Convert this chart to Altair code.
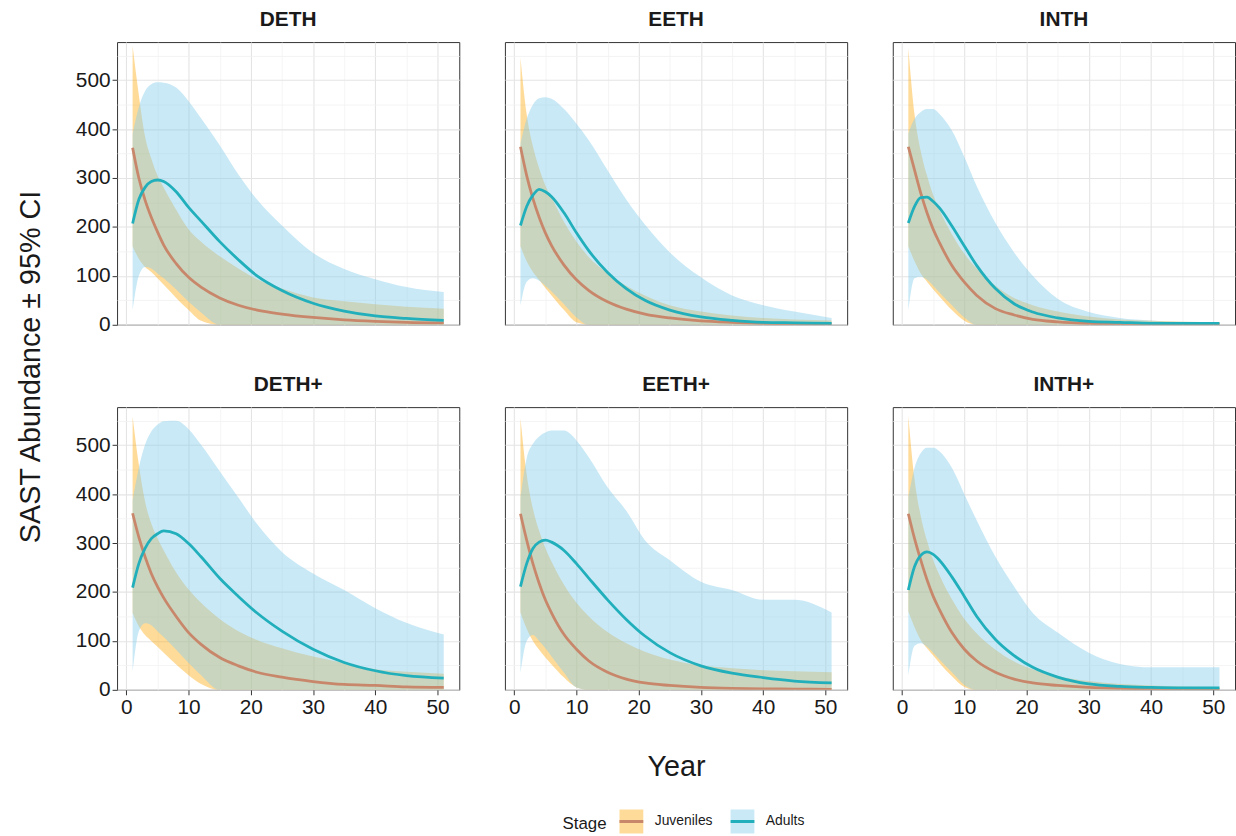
import altair as alt
import pandas as pd

YEARS = [1, 2, 3, 4, 5, 6, 8, 10, 12, 15, 18, 21, 25, 30, 35, 40, 45, 51]
SCENARIOS = ["DETH", "EETH", "INTH", "DETH+", "EETH+", "INTH+"]
STAGES = ["Juveniles", "Adults"]

# ---- DETH ----
DETH_J_MEAN = [362, 300, 255, 220, 190, 163, 125, 97, 77, 55, 40, 30, 22, 15, 10, 7, 5, 4]
DETH_J_LO = [160, 135, 118, 108, 95, 82, 55, 30, 8, 0, 0, 0, 0, 0, 0, 0, 0, 0]
DETH_J_HI = [570, 470, 385, 340, 305, 280, 235, 195, 170, 140, 115, 93, 74, 56, 48, 42, 37, 33]
DETH_A_MEAN = [207, 256, 281, 293, 296, 293, 272, 240, 212, 170, 133, 100, 70, 44, 28, 18, 13, 9]
DETH_A_LO = [30, 100, 118, 115, 105, 95, 72, 47, 25, 0, 0, 0, 0, 0, 0, 0, 0, 0]
DETH_A_HI = [390, 445, 478, 492, 496, 495, 485, 457, 422, 367, 307, 256, 203, 147, 114, 93, 77, 67]
# ---- EETH ----
EETH_J_MEAN = [364, 305, 258, 220, 188, 162, 122, 92, 70, 47, 32, 22, 14, 8, 5, 3, 2, 1.5]
EETH_J_LO = [160, 130, 108, 92, 75, 60, 30, 5, 0, 0, 0, 0, 0, 0, 0, 0, 0, 0]
EETH_J_HI = [546, 430, 365, 320, 285, 260, 210, 170, 138, 105, 80, 60, 40, 27, 19, 14, 11, 9]
EETH_A_MEAN = [203, 242, 265, 277, 272, 262, 229, 188, 151, 107, 74, 50, 30, 16, 9, 5, 4, 3]
EETH_A_LO = [40, 88, 95, 90, 80, 68, 42, 15, 0, 0, 0, 0, 0, 0, 0, 0, 0, 0]
EETH_A_HI = [370, 421, 450, 463, 465, 462, 441, 411, 377, 316, 256, 205, 148, 97, 60, 40, 27, 14]
# ---- INTH ----
INTH_J_MEAN = [364, 316, 269, 229, 195, 168, 121, 87, 60, 33, 20, 11, 6, 3, 2, 1.5, 1, 1]
INTH_J_LO = [160, 130, 105, 88, 72, 58, 30, 8, 0, 0, 0, 0, 0, 0, 0, 0, 0, 0]
INTH_J_HI = [566, 430, 355, 305, 265, 235, 185, 145, 115, 80, 55, 40, 27, 17, 11, 8, 6, 5]
INTH_A_MEAN = [208, 242, 260, 261, 252, 239, 202, 161, 121, 74, 43, 26, 14, 7, 5, 3, 3, 3]
INTH_A_LO = [30, 95, 98, 92, 80, 66, 40, 15, 0, 0, 0, 0, 0, 0, 0, 0, 0, 0]
INTH_A_HI = [391, 421, 435, 441, 441, 431, 397, 343, 283, 208, 148, 100, 53, 26, 14, 9, 6, 5]
# ---- DETH+ ----
DETHP_J_MEAN = [361, 312, 272, 238, 211, 188, 150, 117, 93, 66, 49, 36, 26, 17, 11, 9, 6, 5]
DETHP_J_LO = [157, 130, 112, 100, 88, 76, 52, 30, 12, 0, 0, 0, 0, 0, 0, 0, 0, 0]
DETHP_J_HI = [559, 460, 385, 340, 310, 285, 240, 205, 178, 145, 120, 102, 85, 68, 55, 42, 37, 33]
DETHP_A_MEAN = [209, 258, 289, 309, 319, 325, 319, 299, 272, 228, 191, 157, 120, 83, 56, 39, 29, 24]
DETHP_A_LO = [38, 120, 136, 132, 120, 108, 82, 55, 30, 0, 0, 0, 0, 0, 0, 0, 0, 0]
DETHP_A_HI = [387, 454, 501, 528, 542, 549, 550, 533, 501, 447, 393, 339, 282, 238, 204, 167, 137, 113]
# ---- EETH+ ----
EETHP_J_MEAN = [360, 306, 258, 218, 184, 157, 113, 83, 59, 36, 22, 14, 9, 5, 3, 2, 1.5, 1]
EETHP_J_LO = [158, 125, 100, 82, 66, 52, 25, 5, 0, 0, 0, 0, 0, 0, 0, 0, 0, 0]
EETHP_J_HI = [555, 440, 370, 325, 290, 262, 215, 178, 150, 118, 95, 78, 62, 50, 44, 40, 38, 36]
EETHP_A_MEAN = [211, 258, 289, 302, 306, 302, 285, 258, 228, 184, 144, 110, 76, 49, 34, 25, 18, 14]
EETHP_A_LO = [35, 100, 112, 100, 85, 68, 35, 5, 0, 0, 0, 0, 0, 0, 0, 0, 0, 0]
EETHP_A_HI = [393, 474, 503, 518, 526, 530, 530, 510, 475, 414, 366, 306, 265, 221, 204, 184, 184, 158]
# ---- INTH+ ----
INTHP_J_MEAN = [360, 309, 265, 225, 191, 164, 117, 83, 59, 36, 22, 14, 9, 5, 3, 2, 1.5, 1]
INTHP_J_LO = [160, 128, 102, 85, 70, 55, 28, 6, 0, 0, 0, 0, 0, 0, 0, 0, 0, 0]
INTHP_J_HI = [560, 430, 355, 305, 265, 235, 185, 145, 115, 82, 58, 42, 28, 18, 12, 9, 7, 6]
INTHP_A_MEAN = [204, 252, 275, 282, 277, 265, 231, 191, 150, 103, 70, 46, 26, 12, 7, 5, 4, 4]
INTHP_A_LO = [30, 90, 95, 88, 76, 62, 36, 10, 0, 0, 0, 0, 0, 0, 0, 0, 0, 0]
INTHP_A_HI = [393, 454, 484, 495, 495, 488, 454, 400, 346, 272, 211, 157, 117, 76, 53, 46, 46, 46]

SERIES = {
    ("DETH", "Juveniles"): (DETH_J_MEAN, DETH_J_LO, DETH_J_HI),
    ("DETH", "Adults"): (DETH_A_MEAN, DETH_A_LO, DETH_A_HI),
    ("EETH", "Juveniles"): (EETH_J_MEAN, EETH_J_LO, EETH_J_HI),
    ("EETH", "Adults"): (EETH_A_MEAN, EETH_A_LO, EETH_A_HI),
    ("INTH", "Juveniles"): (INTH_J_MEAN, INTH_J_LO, INTH_J_HI),
    ("INTH", "Adults"): (INTH_A_MEAN, INTH_A_LO, INTH_A_HI),
    ("DETH+", "Juveniles"): (DETHP_J_MEAN, DETHP_J_LO, DETHP_J_HI),
    ("DETH+", "Adults"): (DETHP_A_MEAN, DETHP_A_LO, DETHP_A_HI),
    ("EETH+", "Juveniles"): (EETHP_J_MEAN, EETHP_J_LO, EETHP_J_HI),
    ("EETH+", "Adults"): (EETHP_A_MEAN, EETHP_A_LO, EETHP_A_HI),
    ("INTH+", "Juveniles"): (INTHP_J_MEAN, INTHP_J_LO, INTHP_J_HI),
    ("INTH+", "Adults"): (INTHP_A_MEAN, INTHP_A_LO, INTHP_A_HI),
}

rows = []
for (scen, stage), (mean, lo, hi) in SERIES.items():
    for i, yr in enumerate(YEARS):
        rows.append({"Scenario": scen, "Stage": stage, "Year": yr,
                     "mean": mean[i], "lo": lo[i], "hi": hi[i]})
data = pd.DataFrame(rows)

FONT = "Liberation Sans"
fill_scale = alt.Scale(domain=STAGES, range=["rgba(255,165,0,0.4)", "rgba(135,206,235,0.45)"])
stroke_scale = alt.Scale(domain=STAGES, range=["#C8876B", "#22AFBC"])
LEGEND_PATH = "M-1,0L1,0L1,-1L-1,-1L-1,1L1,1L1,0Z"
legend = alt.Legend(
    title="Stage", orient="none", legendX=449, legendY=772, direction="horizontal",
    titleOrient="left", symbolType=LEGEND_PATH, symbolSize=576, symbolStrokeWidth=3,
    symbolDash=[24, 1000], labelFontSize=14, titleFontSize=17, titleFontWeight="normal",
    labelOffset=10, columnPadding=11, titlePadding=11, labelFont=FONT, titleFont=FONT,
    labelColor="#1a1a1a", titleColor="#1a1a1a", titleBaseline="middle",
)

MAJOR_X = "datum.value % 10 === 0"
MAJOR_Y = "datum.value % 100 === 0"
xs = alt.Scale(domain=[-1.5, 53.5], nice=False, zero=False)
ys = alt.Scale(domain=[0, 578], nice=False, zero=False)


def x_axis(show, title):
    kw = dict(values=list(range(0, 55, 5)), grid=True, domain=False,
              gridColor={"condition": {"test": MAJOR_X, "value": "#E4E4E4"}, "value": "#F1F1F1"},
              gridWidth={"condition": {"test": MAJOR_X, "value": 1.1}, "value": 0.8})
    if show:
        kw.update(labelExpr="datum.value % 10 === 0 ? datum.label : ''", ticks=True,
                  tickOpacity={"condition": {"test": MAJOR_X, "value": 1}, "value": 0},
                  tickSize=5, tickColor="#333333", tickWidth=1, labelFontSize=21,
                  labelPadding=2, labelFlush=False)
    else:
        kw.update(labels=False, ticks=False)
    if title:
        kw.update(title="Year", titleX=172.5, titleY=77, titleAlign="center",
                  titleBaseline="middle", titleFontSize=29, titleFontWeight="normal")
    else:
        kw["title"] = None
    return alt.Axis(**kw)


def y_axis(show, title):
    kw = dict(values=list(range(0, 600, 50)), grid=True, domain=False,
              gridColor={"condition": {"test": MAJOR_Y, "value": "#E4E4E4"}, "value": "#F1F1F1"},
              gridWidth={"condition": {"test": MAJOR_Y, "value": 1.1}, "value": 0.8})
    if show:
        kw.update(labelExpr="datum.value % 100 === 0 ? datum.label : ''", ticks=True,
                  tickOpacity={"condition": {"test": MAJOR_Y, "value": 1}, "value": 0},
                  tickSize=5, tickColor="#333333", tickWidth=1, labelFontSize=21,
                  labelPadding=2, labelFlush=False)
    else:
        kw.update(labels=False, ticks=False)
    if title:
        kw.update(title="SAST Abundance ± 95% CI", titleX=-87, titleY=327, titleAngle=270,
                  titleAlign="center", titleBaseline="middle", titleFontSize=29,
                  titleFontWeight="normal")
    else:
        kw["title"] = None
    return alt.Axis(**kw)


def panel(idx, name):
    row, col = divmod(idx, 3)
    xa = x_axis(row == 1, row == 1 and col == 1)
    ya = y_axis(col == 0, row == 0 and col == 0)
    base = alt.Chart(data).transform_filter(alt.datum.Scenario == name)
    x = alt.X("Year:Q", scale=xs, axis=xa)
    areas = []
    for st in STAGES:
        areas.append(
            base.transform_filter(alt.datum.Stage == st)
            .mark_area(interpolate="monotone", clip=True)
            .encode(x=x, y=alt.Y("lo:Q", scale=ys, axis=ya), y2="hi:Q",
                    fill=alt.Fill("Stage:N", scale=fill_scale, legend=legend))
        )
    line = base.mark_line(interpolate="monotone", clip=True, strokeWidth=2.8).encode(
        x=x, y=alt.Y("mean:Q", scale=ys, axis=ya),
        stroke=alt.Stroke("Stage:N", scale=stroke_scale, legend=legend),
    )
    return alt.layer(*areas, line).properties(
        width=345, height=285,
        title=alt.TitleParams(text=name, fontSize=21, fontWeight="bold", font=FONT,
                              color="#1a1a1a", anchor="middle", offset=12),
    )


panels = [panel(i, n) for i, n in enumerate(SCENARIOS)]

chart = alt.concat(
    *panels, columns=3, spacing={"row": 83, "column": 46}, bounds="flush",
    padding={"left": 16, "top": 5, "right": 0, "bottom": 0}, background="white",
).configure_view(stroke="#333333", strokeWidth=1).configure_axis(
    labelFont=FONT, titleFont=FONT, labelColor="#1a1a1a", titleColor="#1a1a1a"
)

chart.save("out.html", embed_options={"renderer": "svg", "actions": False})
